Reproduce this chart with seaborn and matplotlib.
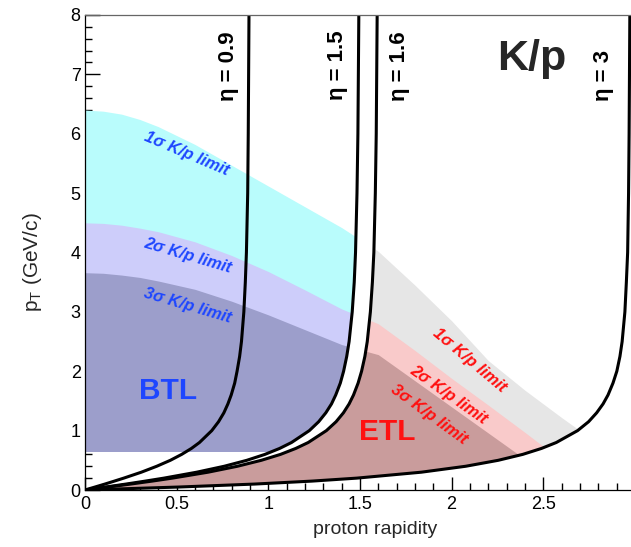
import matplotlib
matplotlib.use("Agg")
import matplotlib.pyplot as plt
from matplotlib.patches import Polygon
from matplotlib.ticker import MultipleLocator, FuncFormatter
import seaborn as sns

# pT values (GeV/c) along which the iso-eta lines were read
pt_grid = [0, 0.05, 0.1, 0.15, 0.2, 0.3, 0.4, 0.5, 0.6, 0.7, 0.8, 1.0, 1.15, 1.3,
           1.45, 1.6, 1.8, 2.0, 2.25, 2.5, 3.0, 3.5, 4.0, 5.0, 6.0, 8.0]
# proton rapidity of each iso-eta line at those pT values
eta09_y = [0, 0.055, 0.109, 0.161, 0.212, 0.308, 0.392, 0.466, 0.528, 0.581, 0.625,
           0.692, 0.729, 0.758, 0.780, 0.798, 0.817, 0.830, 0.844, 0.854, 0.867,
           0.875, 0.881, 0.888, 0.891, 0.895]
eta15_y = [0, 0.113, 0.224, 0.330, 0.431, 0.610, 0.760, 0.883, 0.982, 1.062, 1.127,
           1.224, 1.275, 1.314, 1.345, 1.368, 1.393, 1.411, 1.428, 1.441, 1.458,
           1.469, 1.476, 1.484, 1.489, 1.494]
eta16_y = [0, 0.126, 0.249, 0.367, 0.477, 0.672, 0.832, 0.962, 1.067, 1.150, 1.218,
           1.317, 1.370, 1.410, 1.441, 1.465, 1.490, 1.509, 1.527, 1.540, 1.557,
           1.568, 1.576, 1.584, 1.589, 1.594]
eta30_y = [0, 0.511, 0.925, 1.239, 1.483, 1.835, 2.077, 2.254, 2.388, 2.490, 2.571,
           2.687, 2.747, 2.791, 2.826, 2.853, 2.880, 2.901, 2.918, 2.930, 2.945,
           2.953, 2.960, 2.965, 2.968, 2.972]

# K/p separation limits (pT max) vs proton rapidity
lim_x = [0, 0.1, 0.2, 0.3, 0.4, 0.6, 0.8, 1.0, 1.2, 1.4, 1.6, 1.8, 2.0, 2.2, 2.4,
         2.6, 2.8, 3.0]
lim_1s = [6.40, 6.38, 6.33, 6.24, 6.12, 5.82, 5.47, 5.12, 4.77, 4.42, 4.02, 3.45,
          2.85, 2.18, 1.68, 1.22, 0.78, 0.35]
lim_2s = [4.50, 4.49, 4.46, 4.41, 4.35, 4.18, 3.95, 3.68, 3.37, 3.05, 2.80, 2.35,
          1.88, 1.43, 0.97, 0.50, 0.05, 0.0]
lim_3s = [3.66, 3.65, 3.62, 3.58, 3.52, 3.38, 3.18, 2.95, 2.70, 2.45, 2.28, 1.84,
          1.40, 0.96, 0.52, 0.08, 0.0, 0.0]
btl_pt_min = 0.65

btl_colors = ["#b9fcfc", "#cdcdfa", "#9c9ecb"]
etl_colors = ["#e6e6e6", "#f9caca", "#c99c9c"]

sns.set_theme(style="ticks")
plt.rcParams['font.family'] = ['Liberation Sans', 'DejaVu Sans']

fig = plt.figure(figsize=(6.31, 5.47), dpi=100)
ax = fig.add_axes([0.1345, 0.1042, 0.8718, 0.8684])

# clip regions: BTL left of eta=1.5, ETL between eta=1.6 and eta=3
btl_clip = Polygon(list(zip(eta15_y, pt_grid)) + [(eta15_y[-1], 9), (0, 9)],
                   closed=True, transform=ax.transData, fc="none", ec="none")
etl_clip = Polygon(list(zip(eta16_y, pt_grid)) + [(eta16_y[-1], 9), (eta30_y[-1], 9)]
                   + list(zip(eta30_y, pt_grid))[::-1],
                   closed=True, transform=ax.transData, fc="none", ec="none")
ax.add_patch(btl_clip)
ax.add_patch(etl_clip)

for lim, c in zip([lim_1s, lim_2s, lim_3s], btl_colors):
    f = ax.fill_between(lim_x, btl_pt_min, lim, color=c, lw=0)
    f.set_clip_path(btl_clip)
for lim, c in zip([lim_1s, lim_2s, lim_3s], etl_colors):
    f = ax.fill_between(lim_x, 0, lim, color=c, lw=0)
    f.set_clip_path(etl_clip)

for eta_y in [eta09_y, eta15_y, eta16_y, eta30_y]:
    sns.lineplot(x=eta_y, y=pt_grid, color="black", lw=2.2, sort=False,
                 estimator=None, ax=ax)

# eta labels (read bottom to top)
for txt, x, y in [("η = 0.9", 0.783, 7.14), ("η = 1.5", 1.38, 7.15),
                  ("η = 1.6", 1.718, 7.13), ("η = 3", 2.83, 6.98)]:
    ax.text(x, y, txt, rotation=90, ha="center", va="center", fontsize=16,
            fontweight="bold", color="black")

ax.text(2.438, 7.26, "K/p", ha="center", va="center", fontsize=31, fontweight="bold")
ax.text(0.456, 1.66, "BTL", ha="center", va="center", fontsize=21.5,
        fontweight="bold", color="#1e46ff")
ax.text(1.65, 0.985, "ETL", ha="center", va="center", fontsize=21.5,
        fontweight="bold", color="#ff1010")

blue_lbl = [("1σ K/p limit", 0.554, 5.67, -23), ("2σ K/p limit", 0.561, 3.94, -16.5),
            ("3σ K/p limit", 0.562, 3.11, -16.5)]
red_lbl = [("1σ K/p limit", 2.095, 2.18, -40), ("2σ K/p limit", 1.986, 1.61, -35),
           ("3σ K/p limit", 1.877, 1.28, -36)]
for txt, x, y, rot in blue_lbl:
    ax.text(x, y, txt, rotation=rot, ha="center", va="center", fontsize=12,
            fontweight="bold", fontstyle="italic", color="#1e46ff")
for txt, x, y, rot in red_lbl:
    ax.text(x, y, txt, rotation=rot, ha="center", va="center", fontsize=12,
            fontweight="bold", fontstyle="italic", color="#ff1010")

ax.set_xlim(0, 3)
ax.set_ylim(0, 8)
ax.xaxis.set_major_locator(MultipleLocator(0.5))
ax.xaxis.set_minor_locator(MultipleLocator(0.1))
ax.yaxis.set_major_locator(MultipleLocator(1))
ax.yaxis.set_minor_locator(MultipleLocator(0.2))
ax.xaxis.set_major_formatter(FuncFormatter(lambda v, p: f"{v:g}"))
ax.yaxis.set_major_formatter(FuncFormatter(lambda v, p: f"{v:g}"))
ax.tick_params(axis="both", which="both", direction="in", top=False, right=False,
               color="black", width=1, labelsize=13, labelcolor="black")
ax.tick_params(axis="y", which="major", length=11, pad=3)
ax.tick_params(axis="x", which="major", length=9.5, pad=4)
ax.tick_params(axis="both", which="minor", length=5)
for s in ax.spines.values():
    s.set_color("black")
    s.set_linewidth(0.9)
ax.spines["top"].set_color("#666666")

ax.set_xlabel("")
ax.set_ylabel("")
fig.text(375 / 631, 1 - 529 / 547, "proton rapidity", ha="center", va="center", fontsize=14)
fig.text(33 / 631, 1 - 262 / 547, "p$_{\\mathregular{T}}$ (GeV/c)", rotation=90,
         ha="center", va="center", fontsize=15)

fig.savefig("out.png", dpi=100)
